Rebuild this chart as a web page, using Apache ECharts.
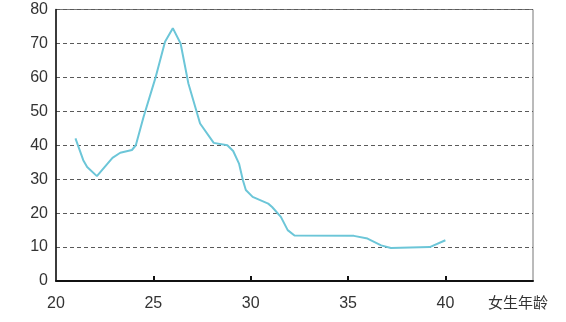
<!DOCTYPE html>
<html>
<head>
<meta charset="utf-8">
<script src="https://cdn.jsdelivr.net/npm/echarts@6/dist/echarts.min.js"></script>
<style>html,body{margin:0;padding:0;background:#fff}#c{width:566px;height:322px}</style>
</head>
<body>
<div id="c"></div>
<script>
const ages = [21.0, 21.4, 21.6, 22.1, 22.9, 23.3, 23.9, 24.1, 24.5, 25.1, 25.6, 26.0, 26.4, 26.8, 27.4, 28.1, 28.8, 29.1, 29.4, 29.6, 29.75, 30.1, 30.9, 31.1, 31.55, 31.9, 32.25, 35.3, 36.0, 36.7, 37.2, 39.2, 40.0];
const rates = [42.0, 35.6, 33.6, 30.9, 36.3, 37.8, 38.6, 40.0, 48.4, 59.7, 70.5, 74.5, 70.0, 58.2, 46.4, 40.7, 40.0, 38.3, 34.6, 29.7, 26.8, 24.8, 22.8, 21.8, 18.9, 15.0, 13.4, 13.3, 12.5, 10.5, 9.7, 10.0, 12.0];
const xTicks = [20, 25, 30, 35, 40];
const xName = '女生年龄';

const chart = echarts.init(document.getElementById('c'), null, {renderer: 'canvas'});
chart.setOption({
  animation: false,
  backgroundColor: '#fff',
  grid: {left: 56, right: 33, top: 9.5, bottom: 41, show: true, borderColor: '#777', borderWidth: 1, backgroundColor: 'transparent'},
  xAxis: {
    type: 'value', min: 20, max: 44.5, interval: 5,
    axisLine: {lineStyle: {color: '#111', width: 2}},
    axisTick: {show: true, inside: true, length: 5, customValues: xTicks.slice(1), lineStyle: {color: '#111', width: 2}},
    axisLabel: {
      margin: 15, color: '#333', fontSize: 16, fontFamily: 'Liberation Sans',
      customValues: xTicks
    },
    splitLine: {show: false}
  },
  yAxis: {
    type: 'value', min: 0, max: 80, interval: 10,
    axisLine: {show: true, lineStyle: {color: '#111', width: 1.5}},
    axisTick: {show: false},
    axisLabel: {margin: 8, color: '#333', fontSize: 16, fontFamily: 'Liberation Sans'},
    splitLine: {show: true, lineStyle: {color: '#5a5a5a', type: [4, 3], width: 1}}
  },
  graphic: [{
    type: 'text', left: 488, top: 295,
    style: {text: xName, fill: '#333', font: '15px "Noto Sans CJK SC"'}
  }],
  series: [{
    type: 'line',
    data: ages.map((a, i) => [a, rates[i]]),
    showSymbol: false,
    lineStyle: {color: '#6cc6d8', width: 2},
    itemStyle: {color: '#6cc6d8'}
  }]
});
</script>
</body>
</html>
